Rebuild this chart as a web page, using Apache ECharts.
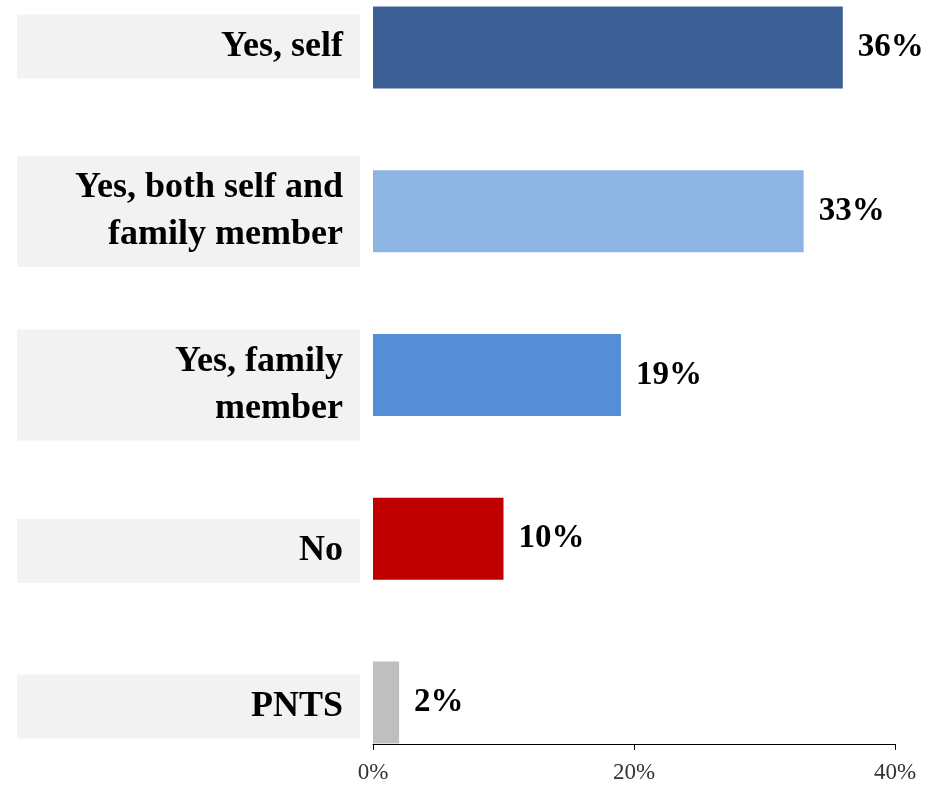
<!DOCTYPE html>
<html>
<head>
<meta charset="utf-8">
<style>
  html, body { margin: 0; padding: 0; background: #ffffff; }
  #chart { width: 938px; height: 785px; }
</style>
<script src="https://cdn.jsdelivr.net/npm/echarts@6/dist/echarts.min.js"></script>
</head>
<body>
<div id="chart"></div>
<script>
// Survey answers, top to bottom
const categories = ['Yes, self', 'Yes, both self and\nfamily member', 'Yes, family\nmember', 'No', 'PNTS'];
const shares = [36, 33, 19, 10, 2];
const xTicks = [0, 20, 40];

// Presentation settings
const barColors = ['#3C6095', '#8EB4E3', '#558ED5', '#C00000', '#BFBFBF'];
const labelShift = [-1, 0, 10, 12, 4];   // vertical nudge of each label box (px)
const serif = '"Liberation Serif", "Times New Roman", serif';

const chart = echarts.init(document.getElementById('chart'), null, { renderer: 'canvas' });

const yData = categories.map((name, i) => {
  const d = labelShift[i];
  return {
    value: name,
    textStyle: { padding: d >= 0 ? [2 * d, 0, 0, 0] : [0, 0, -2 * d, 0] }
  };
});

const boxBase = {
  width: 326,
  align: 'right',
  backgroundColor: '#F2F2F2',
  fontFamily: serif,
  fontWeight: 'bold',
  fontSize: 36,
  color: '#000000'
};

chart.setOption({
  animation: false,
  grid: { left: 373, right: 43, top: 47.5, bottom: 82.5, containLabel: false },
  xAxis: {
    type: 'value',
    min: xTicks[0],
    max: xTicks[xTicks.length - 1],
    interval: xTicks[1] - xTicks[0],
    position: 'bottom',
    offset: 41.5,
    axisLine: { show: true, lineStyle: { color: '#000000', width: 1 } },
    axisTick: { show: true, length: 6, lineStyle: { color: '#000000' } },
    splitLine: { show: false },
    axisLabel: {
      formatter: '{value}%',
      fontFamily: serif,
      fontSize: 23,
      color: '#333333',
      margin: 17
    }
  },
  yAxis: {
    type: 'category',
    inverse: true,
    boundaryGap: false,
    data: yData,
    axisLine: { show: false },
    axisTick: { show: false },
    splitLine: { show: false },
    axisLabel: {
      margin: 13,
      align: 'right',
      verticalAlign: 'middle',
      formatter: function (value) {
        const lines = value.split('\n');
        if (lines.length === 1) {
          return '{one|' + lines[0] + '}';
        }
        return '{top|' + lines[0] + '}\n{bot|' + lines[1] + '}';
      },
      rich: {
        one: Object.assign({}, boxBase, { height: 64, lineHeight: 64, padding: [0, 17, 0, 0] }),
        top: Object.assign({}, boxBase, { height: 47.5, lineHeight: 55.5, padding: [8, 17, 0, 0] }),
        bot: Object.assign({}, boxBase, { height: 47.5, lineHeight: 55.5, padding: [0, 17, 8, 0] })
      }
    }
  },
  series: [{
    type: 'bar',
    data: shares.map((v, i) => ({ value: v, itemStyle: { color: barColors[i] } })),
    barWidth: 82,
    clip: false,
    label: {
      show: true,
      position: 'right',
      distance: 15,
      formatter: '{c}%',
      fontFamily: serif,
      fontWeight: 'bold',
      fontSize: 33,
      color: '#000000'
    }
  }]
});
</script>
</body>
</html>
